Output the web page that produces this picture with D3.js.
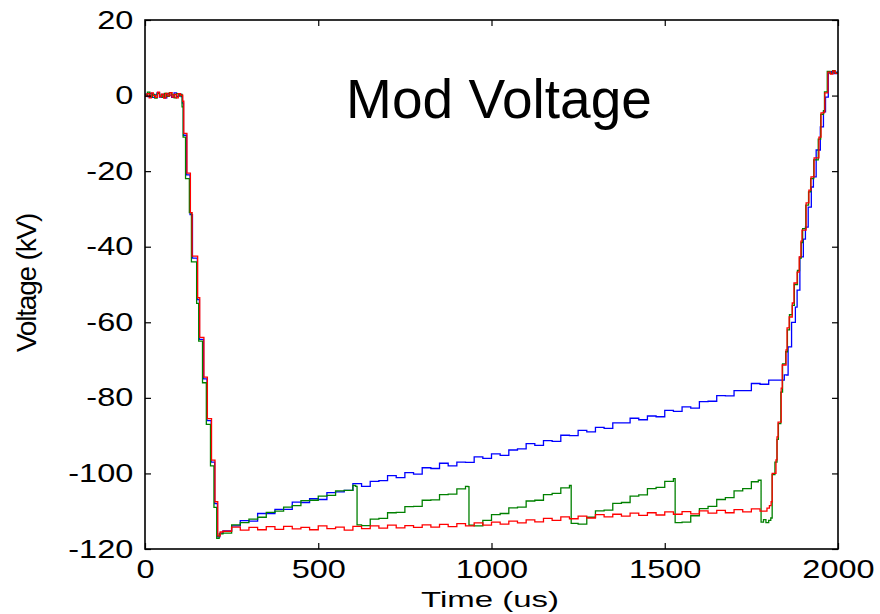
<!DOCTYPE html>
<html>
<head>
<meta charset="utf-8">
<script src="https://cdn.jsdelivr.net/npm/d3@7"></script>
<style>
  body { margin: 0; background: #fff; }
  svg { display: block; font-family: "Liberation Sans", Arial, sans-serif; }
</style>
</head>
<body>
<div id="chart"></div>
<script>
// tick values
var xTicks = [0, 500, 1000, 1500, 2000];
var yTicks = [-120, -100, -80, -60, -40, -20, 0, 20];

// traces, [time (us), voltage (kV)]
var blueTrace = [
  [0,0.4],[7,-0.3],[14,0.6],[21,-0.5],[28,0.2],[35,0.8],[42,-0.4],[49,0.3],[56,-0.6],[63,0.5],[70,0.1],[77,-0.5],[84,0.7],[91,-0.2],[98,0.4],[104,-0.3],
  [108,-2],[111,-10.5],[120,-21],[130,-31.5],[137,-43],[151,-54],[157,-64.5],[169,-75],[179,-86],[191,-97],[201,-108],[209,-116.8],[216,-115.8],
  [225,-115.2],[250,-113.9],[275,-112.5],[300,-112.6],[325,-110.6],[350,-110.6],[375,-109.5],[400,-109.5],[425,-107.6],[450,-107.7],
  [475,-106.7],[500,-106.9],[525,-105.1],[550,-104.9],[575,-104.5],[600,-102.7],[625,-103.4],[650,-102.1],[675,-101.9],[700,-100.6],
  [725,-101.1],[750,-99.8],[775,-100.2],[800,-98.5],[825,-98.7],[850,-97.3],[875,-98.0],[900,-97.0],[925,-97.1],[950,-95.6],
  [975,-96.0],[1000,-94.8],[1025,-95.2],[1050,-93.8],[1075,-93.5],[1100,-92.1],[1125,-92.6],[1150,-91.3],[1175,-91.5],[1200,-89.9],
  [1225,-90.0],[1250,-88.6],[1275,-89.0],[1300,-87.8],[1325,-88.1],[1350,-86.6],[1375,-86.6],[1400,-85.4],[1425,-85.8],[1450,-84.8],
  [1475,-85.0],[1500,-83.3],[1525,-83.6],[1550,-82.4],[1575,-82.7],[1600,-81.0],[1625,-80.9],[1650,-79.4],[1675,-79.5],[1700,-78.1],
  [1725,-78.1],[1750,-76.2],[1775,-76.4],[1800,-75.3],[1825,-75.3],[1845,-73.9],
  [1852,-74],[1856,-66.5],[1866,-60],[1877,-56],[1882,-51.5],[1890,-42.7],[1900,-38],[1906,-34.8],[1914,-29.5],[1923,-24.2],
  [1929,-21.5],[1937,-14.4],[1949,-8.3],[1958,-4.3],[1964,-0.4],[1972,6],[1980,6.3],[1988,5.8],[1996,6.2],[2000,6]
];

var greenTrace = [
  [0,0.2],[7,0.9],[14,-0.4],[21,0.3],[28,-0.7],[35,0.5],[42,0.1],[49,-0.5],[56,0.6],[63,-0.2],[70,0.8],[77,0.2],[84,-0.6],[91,0.5],[98,-0.1],[104,0.3],
  [107,-3],[110,-11],[117,-22],[128,-31],[134,-44],[149,-55],[155,-65],[166,-76],[177,-87],[189,-98],[199,-109],[207,-117.2],[214,-116],
  [225,-115.8],[250,-113.6],[275,-113.0],[300,-112.1],[325,-111.6],[350,-110.3],[375,-110.0],[400,-108.9],[425,-108.5],[450,-107.2],
  [475,-107.1],[500,-106.0],[525,-105.8],[550,-104.6],[575,-104.5],[600,-103.2],[608,-103.4],
  [612,-113.6],[625,-113.8],[650,-112.1],[675,-111.9],[700,-110.4],[725,-110.3],[750,-108.8],[775,-108.7],[800,-107.1],[825,-107.0],
  [850,-105.6],[875,-105.5],[900,-104.1],[925,-103.4],[932,-103.5],
  [935,-113.7],[950,-113.9],[975,-112.4],[1000,-110.9],[1025,-110.6],[1050,-109.1],[1075,-108.9],[1100,-107.3],[1125,-107.1],[1150,-105.6],
  [1175,-105.3],[1200,-103.8],[1225,-103.2],
  [1230,-113.2],[1250,-113.4],[1275,-111.6],[1300,-109.9],[1325,-109.7],[1350,-107.9],[1375,-107.7],[1400,-106.0],[1425,-105.7],[1450,-104.0],
  [1475,-103.7],[1500,-102.1],[1525,-101.4],
  [1530,-113.0],[1550,-112.9],[1575,-111.2],[1600,-109.3],[1625,-108.7],[1650,-106.9],[1675,-106.4],[1700,-104.6],[1725,-104.0],[1750,-102.2],[1770,-101.8],
  [1778,-112.9],[1785,-112.2],[1792,-113.0],[1800,-112.4],[1806,-111.8],
  [1810,-100.3],[1818,-97],[1824,-91],[1828,-86.8],[1835,-78.5],[1840,-71],[1849,-67.8],[1854,-62],[1860,-58],[1868,-55.5],
  [1874,-50],[1883,-46.3],[1889,-43],[1894,-38.9],[1898,-35.2],[1907,-29],[1915,-25.5],[1921,-22],[1930,-17],[1943,-11.5],
  [1950,-5],[1958,-4],[1961,1],[1969,6.4],[1977,5.9],[1984,6.6],[1991,6.0],[2000,6.3]
];

var redTrace = [
  [0,-0.2],[6,0.5],[12,-0.6],[18,0.7],[24,0.0],[30,-0.5],[36,0.9],[42,-0.3],[48,0.4],[54,-0.7],[60,0.6],[66,-0.1],[72,0.8],[78,-0.4],[84,0.3],[90,-0.6],[96,0.5],[102,0.1],
  [109,-1.5],[112,-10],[121,-20.5],[131,-31],[136,-42.5],[152,-53.5],[158,-64],[170,-74.5],[180,-85.5],[192,-96.5],[202,-107.5],[210,-116.5],[217,-115.5],
  [225,-115.3],[250,-114.2],[275,-115.0],[300,-114.3],[325,-114.9],[350,-114.1],[375,-114.8],[400,-114.0],[425,-114.7],[450,-114.3],
  [475,-114.9],[500,-113.9],[525,-114.6],[550,-114.2],[575,-115.0],[600,-114.0],[625,-114.6],[650,-113.9],[675,-114.5],[700,-113.7],
  [725,-114.4],[750,-113.8],[775,-114.3],[800,-113.6],[825,-114.2],[850,-113.5],[875,-114.1],[900,-113.3],[925,-113.9],[950,-113.1],
  [975,-113.7],[1000,-112.9],[1025,-113.4],[1050,-112.6],[1075,-113.1],[1100,-112.3],[1125,-112.8],[1150,-111.9],[1175,-112.4],[1200,-111.5],
  [1225,-112.0],[1250,-111.3],[1275,-111.8],[1300,-110.9],[1325,-111.5],[1350,-110.8],[1375,-111.3],[1400,-110.5],[1425,-111.1],[1450,-110.4],
  [1475,-111.0],[1500,-110.2],[1525,-110.8],[1550,-110.1],[1575,-110.7],[1600,-109.9],[1625,-110.5],[1650,-109.8],[1675,-110.4],[1700,-109.6],
  [1725,-110.2],[1750,-109.4],[1775,-110.0],[1795,-109.2],[1802,-108.5],[1807,-107.5],
  [1810,-100],[1821,-96.4],[1824,-90.3],[1827,-86.4],[1836,-77.4],[1839,-71.3],[1850,-67.3],[1853,-61.5],[1859,-58.6],[1868,-54.9],
  [1873,-49.6],[1882,-46.7],[1888,-42.7],[1893,-38.5],[1896,-35.6],[1908,-28.4],[1916,-25],[1922,-21.5],[1931,-16.5],[1945,-11],
  [1951,-4.6],[1960,-4.3],[1962,0.7],[1971,6.2],[1978,5.7],[1985,6.5],[1992,5.9],[2000,6.2]
];

var width = 880,
    height = 614,
    plotLeft = 145,
    plotRight = 838,
    plotTop = 20,
    plotBottom = 549;

var svg = d3.select('#chart').append('svg')
    .attr('width', width)
    .attr('height', height);

var x = d3.scaleLinear().domain([0, 2000]).range([plotLeft, plotRight]);
var y = d3.scaleLinear().domain([-120, 20]).range([plotBottom, plotTop]);

svg.append('clipPath').attr('id', 'plot')
  .append('rect')
    .attr('x', plotLeft).attr('y', plotTop)
    .attr('width', plotRight - plotLeft).attr('height', plotBottom - plotTop);

var line = d3.line()
    .x(function(d) { return x(d[0]); })
    .y(function(d) { return y(d[1]); })
    .curve(d3.curveStepAfter);

var traces = [
  { data: blueTrace, color: '#0000ff' },
  { data: greenTrace, color: '#008000' },
  { data: redTrace, color: '#ff0000' }
];

svg.append('g').attr('clip-path', 'url(#plot)')
  .selectAll('path').data(traces)
  .enter().append('path')
    .attr('d', function(d) { return line(d.data); })
    .style('fill', 'none')
    .style('stroke', function(d) { return d.color; })
    .style('stroke-width', 1.3);

// axes, ticks point inward like matlab
var xAxis = svg.append('g')
    .attr('transform', 'translate(0,' + plotBottom + ')')
    .call(d3.axisBottom(x).tickValues(xTicks).tickFormat(d3.format('d')).tickSize(-6).tickPadding(11));

var yAxis = svg.append('g')
    .attr('transform', 'translate(' + plotLeft + ',0)')
    .call(d3.axisLeft(y).tickValues(yTicks).tickFormat(d3.format('d')).tickSize(-6).tickPadding(9));

svg.append('g')
    .attr('transform', 'translate(0,' + plotTop + ')')
    .call(d3.axisTop(x).tickValues(xTicks).tickSize(-6).tickFormat(''));

svg.append('g')
    .attr('transform', 'translate(' + plotRight + ',0)')
    .call(d3.axisRight(y).tickValues(yTicks).tickSize(-6).tickFormat(''));

svg.selectAll('.domain').remove();
svg.selectAll('.tick line').style('stroke', '#000').style('stroke-width', 1.2);

[xAxis, yAxis].forEach(function(a) {
  a.selectAll('text')
    .attr('transform', 'scale(1.3,1)')
    .style('font-size', '25px')
    .style('font-family', '"Liberation Sans", Arial, sans-serif')
    .style('fill', '#000');
});

// minus sign as plain hyphen like the reference
yAxis.selectAll('text').text(function(d) { return String(d); });

// frame
svg.append('rect')
    .attr('x', plotLeft).attr('y', plotTop)
    .attr('width', plotRight - plotLeft).attr('height', plotBottom - plotTop)
    .style('fill', 'none')
    .style('stroke', '#000')
    .style('stroke-width', 1.6);

// title inside the plot
svg.append('text')
    .attr('x', 499)
    .attr('y', 118)
    .attr('text-anchor', 'middle')
    .style('font-size', '55px')
    .text('Mod Voltage');

// axis labels
svg.append('text')
    .attr('transform', 'translate(490,607) scale(1.5,1)')
    .attr('text-anchor', 'middle')
    .style('font-size', '22px')
    .text('Time (us)');

svg.append('text')
    .attr('transform', 'translate(36,283) rotate(-90)')
    .attr('text-anchor', 'middle')
    .style('font-size', '28px')
    .style('letter-spacing', '-1.2px')
    .text('Voltage (kV)');
</script>
</body>
</html>
